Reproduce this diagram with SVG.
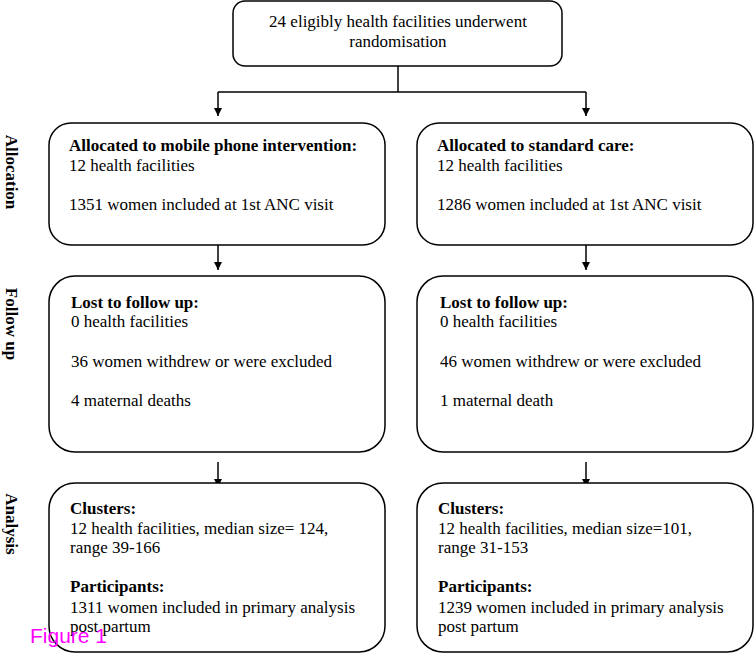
<svg xmlns="http://www.w3.org/2000/svg" width="755" height="654" viewBox="0 0 755 654">
<style>
.box{fill:#fff;stroke:#000;stroke-width:1.5}
.t{font-family:"Liberation Serif","Times New Roman",serif;font-size:17px;fill:#000}
.b{font-weight:bold}
.side{font-family:"Liberation Serif","Times New Roman",serif;font-size:17px;font-weight:bold;fill:#000}
.c{stroke:#000;stroke-width:1.5;fill:none}
</style>
<defs>
<marker id="ah" viewBox="0 0 10 10" refX="10" refY="5" markerWidth="8" markerHeight="8" markerUnits="userSpaceOnUse" orient="auto">
<path d="M0,0 L10,5 L0,10 z" fill="#000"/>
</marker>
</defs>
<g id="connectors">
<path class="c" d="M398,66 V92"/>
<path class="c" d="M218,92 H586"/>
<path class="c" d="M218,92 V116" marker-end="url(#ah)"/>
<path class="c" d="M586,92 V116" marker-end="url(#ah)"/>
<path class="c" d="M218,245 V270" marker-end="url(#ah)"/>
<path class="c" d="M586,245 V270" marker-end="url(#ah)"/>
<path class="c" d="M218,462 V487" marker-end="url(#ah)"/>
<path class="c" d="M586,462 V487" marker-end="url(#ah)"/>
</g>
<g id="top">
<rect class="box" x="233" y="1" width="329" height="65" rx="12"/>
<text class="t" x="398" y="27" text-anchor="middle">24 eligibly health facilities underwent</text>
<text class="t" x="398" y="47" text-anchor="middle">randomisation</text>
</g>
<g id="alloc-left">
<rect class="box" x="49" y="123" width="336" height="122" rx="22"/>
<text class="t b" x="69" y="151">Allocated to mobile phone intervention:</text>
<text class="t" x="69" y="171">12 health facilities</text>
<text class="t" x="69" y="210">1351 women included at 1st ANC visit</text>
</g>
<g id="alloc-right">
<rect class="box" x="417" y="123" width="336" height="122" rx="22"/>
<text class="t b" x="437" y="151">Allocated to standard care:</text>
<text class="t" x="437" y="171">12 health facilities</text>
<text class="t" x="437" y="210">1286 women included at 1st ANC visit</text>
</g>
<g id="follow-left">
<rect class="box" x="49" y="276" width="336" height="176" rx="26"/>
<text class="t b" x="71" y="308">Lost to follow up:</text>
<text class="t" x="71" y="327">0 health facilities</text>
<text class="t" x="71" y="367">36 women withdrew or were excluded</text>
<text class="t" x="71" y="406">4 maternal deaths</text>
</g>
<g id="follow-right">
<rect class="box" x="417" y="276" width="336" height="176" rx="26"/>
<text class="t b" x="440" y="308">Lost to follow up:</text>
<text class="t" x="440" y="327">0 health facilities</text>
<text class="t" x="440" y="367">46 women withdrew or were excluded</text>
<text class="t" x="440" y="406">1 maternal death</text>
</g>
<g id="analysis-left">
<rect class="box" x="49" y="483" width="336" height="169" rx="26"/>
<text class="t b" x="70" y="514">Clusters:</text>
<text class="t" x="70" y="534">12 health facilities, median size= 124,</text>
<text class="t" x="70" y="553">range 39-166</text>
<text class="t b" x="70" y="592">Participants:</text>
<text class="t" x="70" y="613">1311 women included in primary analysis</text>
<text class="t" x="70" y="632">post partum</text>
</g>
<g id="analysis-right">
<rect class="box" x="417" y="483" width="336" height="169" rx="26"/>
<text class="t b" x="438" y="514">Clusters:</text>
<text class="t" x="438" y="534">12 health facilities, median size=101,</text>
<text class="t" x="438" y="553">range 31-153</text>
<text class="t b" x="438" y="592">Participants:</text>
<text class="t" x="438" y="613">1239 women included in primary analysis</text>
<text class="t" x="438" y="632">post partum</text>
</g>
<g id="side-labels">
<text class="side" transform="translate(6,172) rotate(90)" text-anchor="middle">Allocation</text>
<text class="side" transform="translate(6,324) rotate(90)" text-anchor="middle">Follow up</text>
<text class="side" transform="translate(6,524) rotate(90)" text-anchor="middle">Analysis</text>
</g>
<g id="caption">
<text x="30" y="643" font-family="'Liberation Sans',Arial,sans-serif" font-size="21" fill="#ff00ff">Figure 1</text>
</g>
</svg>
